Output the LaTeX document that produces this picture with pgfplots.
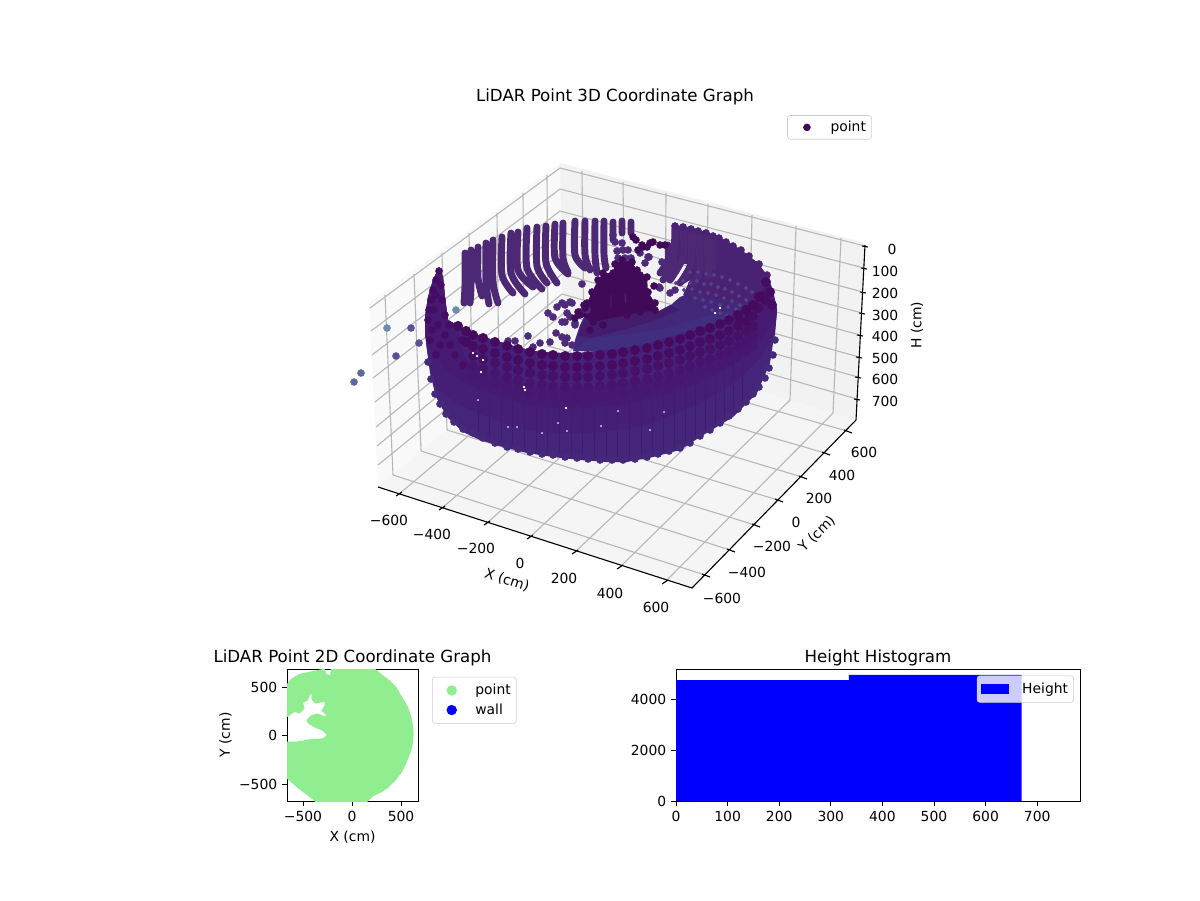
\documentclass[border=0pt]{standalone}
\usepackage{fontspec}
\setmainfont{DejaVu Sans}
\usepackage{pgfplots}
\pgfplotsset{compat=1.18}
\definecolor{pL}{HTML}{F9F9F9}
\definecolor{pR}{HTML}{F2F2F2}
\definecolor{pF}{HTML}{F5F5F5}
\definecolor{gr}{HTML}{B8B8B8}
\definecolor{cA}{HTML}{46207A}
\definecolor{cC}{HTML}{461A72}
\definecolor{cD}{HTML}{461E75}
\definecolor{cE}{HTML}{452579}
\definecolor{cS}{HTML}{452A7C}
\definecolor{cR1}{HTML}{450A5E}
\definecolor{cR2}{HTML}{450C62}
\definecolor{cR3}{HTML}{461067}
\definecolor{cR4}{HTML}{46146C}
\definecolor{cR5}{HTML}{461770}
\definecolor{cBack}{HTML}{4C2875}
\definecolor{cDark}{HTML}{400A59}
\definecolor{cMid}{HTML}{431C6C}
\definecolor{cR}{HTML}{422E7E}
\definecolor{cRm}{HTML}{43287A}
\definecolor{cH}{HTML}{4A2274}
\definecolor{cHatch}{HTML}{574088}
\definecolor{cSep}{HTML}{3C1E6C}
\definecolor{sA}{HTML}{6A8DB0}
\definecolor{sB}{HTML}{5B5092}
\definecolor{sC}{HTML}{5A6A9C}
\definecolor{sD}{HTML}{4E2A7A}
\definecolor{lg}{HTML}{90EE90}
\pgfplotsset{
  mpl/.style={
    scale only axis, axis line style={black,line width=.65pt},
    tick align=outside, tick pos=left, major tick length=3.5pt,
    every tick/.append style={black,line width=.65pt},
    title style={font=\fontsize{12}{14}\selectfont,yshift=-7.5pt},
    legend cell align=left,
  },
  dots/.style={only marks,mark=*,mark size=2.5pt,mark options={draw=none}},
  bigdots/.style={only marks,mark=*,mark size=3.4pt,mark options={draw=none}},
  dotlegend/.style={legend image code/.code={\draw[##1] plot coordinates {(0pt,0pt)};\path[draw=none,fill=none] (-12pt,0pt)--(15pt,0pt);}},
}
\newcommand{\lbl}[3]{\node[font=\fontsize{10}{12}\selectfont,inner sep=0pt] at (axis cs:#1,#2) {#3};}
\begin{document}
\begin{tikzpicture}
\path[use as bounding box] (0,0) rectangle (864pt,648pt);
\begin{axis}[at={(0,0)},anchor=south west,scale only axis,width=864pt,height=648pt,
  xmin=0,xmax=1200,ymin=0,ymax=900,y dir=reverse,hide axis,clip=false,unbounded coords=jump,
  dotlegend,legend entries={point},
  legend style={at={(0.656,0.872)},anchor=north west,draw=black!20,rounded corners=2pt,inner xsep=2pt,inner ysep=2pt,font=\fontsize{10}{12}\selectfont}]
\addlegendimage{only marks,mark=*,mark size=2.5pt,color=cDark}
% panes
\addplot[fill=pL,draw=none] coordinates {(369,303)(560,163)(563,333)(378,487)(369,303)};
\addplot[fill=pR,draw=none] coordinates {(560,163)(865,243)(856,420)(563,333)(560,163)};
\addplot[fill=pF,draw=none] coordinates {(378,487)(563,333)(856,420)(692,588)(378,487)};
% grid
\addplot[gr,line width=.8pt] coordinates {
(399,494)(584,339)(nan,nan)(442,508)(625,351)(nan,nan)(487,523)(665,363)(nan,nan)(530,537)(705,375)(nan,nan)(575,552)(748,388)(nan,nan)(620,567)(790,400)(nan,nan)(665,582)(833,413)(nan,nan)
(393,475)(705,575)(nan,nan)(421,451)(730,550)(nan,nan)(447,430)(755,525)(nan,nan)(473,408)(778,500)(nan,nan)(499,386)(802,477)(nan,nan)(524,366)(825,453)(nan,nan)(548,346)(847,431)(nan,nan)
(584,339)(582,171)(nan,nan)(625,351)(623,182)(nan,nan)(665,363)(666,193)(nan,nan)(705,375)(708,204)(nan,nan)(748,388)(752,215)(nan,nan)(790,400)(796,226)(nan,nan)(833,413)(841,238)(nan,nan)
(393,475)(385,295)(nan,nan)(421,451)(414,274)(nan,nan)(447,430)(442,253)(nan,nan)(473,408)(469,233)(nan,nan)(499,386)(497,213)(nan,nan)(524,366)(523,193)(nan,nan)(548,346)(547,175)(nan,nan)
(370,308)(560,168)(865,246)(nan,nan)(371,331)(560,189)(864,268)(nan,nan)(372,355)(560,211)(863,292)(nan,nan)(373,378)(561,232)(862,313)(nan,nan)
(375,402)(561,253)(860,335)(nan,nan)(376,427)(562,274)(859,357)(nan,nan)(377,446)(562,294)(858,377)(nan,nan)(378,465)(563,314)(857,399)};
% axis lines and ticks
\addplot[black,line width=.8pt] coordinates {(378,487)(692,588)(856,420)(nan,nan)(865,245)(856,420)(nan,nan)
(396,496)(402,492)(nan,nan)(439,510)(445,506)(nan,nan)(484,525)(490,521)(nan,nan)(527,539)(533,535)(nan,nan)(572,554)(578,550)(nan,nan)(617,569)(623,565)(nan,nan)(662,584)(668,580)(nan,nan)
(702,574)(710,577)(nan,nan)(727,549)(735,552)(nan,nan)(752,524)(760,527)(nan,nan)(775,499)(783,502)(nan,nan)(799,476)(807,479)(nan,nan)(822,452)(830,455)(nan,nan)(844,430)(852,433)(nan,nan)
(862,246)(868,247)(nan,nan)(861,268)(867,269)(nan,nan)(860,292)(866,293)(nan,nan)(859,313)(865,314)(nan,nan)(857,335)(863,336)(nan,nan)(856,357)(862,358)(nan,nan)(855,377)(861,378)(nan,nan)(854,399)(860,400)};
% far stray points
\addplot[dots,color=sA] coordinates {(387,328)(456,310)};
\addplot[dots,color=sB] coordinates {(411,328)(419,343)(396,356)};
\addplot[dots,color=sC] coordinates {(361,373)(354,382)};
% back wall columns
\addplot[cBack,line width=5pt,line cap=round,line join=round,smooth,tension=.5] coordinates {
(465,253)(465,285)(464,303)(nan,nan)(471,250)(471,285)(470,303)(nan,nan)(478,247)(478,278)(482,296)(nan,nan)
(486,243)(486,282)(489,304)(nan,nan)(493,240)(493,282)(498,303)(nan,nan)(502,237)(502,275)(513,293)(nan,nan)
(511,233)(511,273)(525,294)(nan,nan)(518,232)(518,270)(533,287)(nan,nan)(527,228)(527,268)(542,289)(nan,nan)
(537,227)(537,266)(547,283)(nan,nan)(546,226)(546,263)(557,283)(nan,nan)(555,224)(555,258)(568,274)(nan,nan)
(563,223)(563,258)(568,272)(nan,nan)(575,221)(575,255)(585,268)(nan,nan)(585,221)(585,255)(590,270)(nan,nan)
(595,221)(595,255)(597,273)(nan,nan)(604,221)(604,255)(606,268)(nan,nan)(613,222)(613,240)(nan,nan)
(622,221)(622,233)(nan,nan)(631,222)(631,233)(nan,nan)(668,245)(668,260)(660,273)};
% scattered interior points
\addplot[dots,color=sD] coordinates {(548,313)(557,307)(562,303)(570,302)(567,313)(553,317)(562,322)(575,323)(580,313)(587,310)(582,284)
(565,305)(572,303)(570,317)(565,322)(575,325)(567,338)(565,343)(556,333)(562,337)(550,342)(540,343)(528,336)(515,341)(508,341)(533,347)
(613,235)(615,242)(622,243)(617,251)(623,250)(628,250)(618,258)(625,258)(631,258)(645,263)(649,257)(662,262)(660,288)(670,293)(675,290)(640,253)(648,257)(659,287)(572,345)(580,312)};
\addplot[dots,color=cDark] coordinates {(636,240)(642,245)(638,250)(647,247)(653,242)(660,245)(665,245)(633,237)(643,247)(650,243)};
% inner right wall (upper)
\addplot[fill=cH,draw=none] coordinates {(675,225)(683,226)(691,228)(698,230)(706,232)(713,235)(719,237)(726,241)(733,245)(740,249)(748,255)(758,263)(767,275)(773,290)(777,310)(760,300)(735,318)(700,330)(695,300)(683,295)(690,280)(682,285)(691,265)(675,262)(675,225)};
\addplot[dots,color=cH] coordinates {(675,226)(683,227)(691,229)(698,231)(706,233)(713,236)(719,238)(726,242)(733,246)(741,250)(749,256)(759,264)(767,275)};
\addplot[cBack,line width=5pt,line cap=round,line join=round,smooth,tension=.5] coordinates {
(675,226)(673,263)(663,280)(nan,nan)(683,227)(683,257)(670,280)(nan,nan)(691,229)(691,263)(680,283)(nan,nan)(698,232)(700,270)(693,283)(nan,nan)(706,233)(709,275)(nan,nan)(713,237)(713,267)};
% inner surface (lower)
\addplot[fill=cRm,draw=none] coordinates {(573,351)(575,340)(580,325)(585,315)(620,305)(657,311)(665,311)(673,303)(680,297)(693,292)(705,297)(725,300)(745,303)(762,292)(765,300)(735,320)(700,333)(660,345)(620,352)(573,351)};
\addplot[fill=cR,draw=none] coordinates {(573,351)(590,338)(620,335)(660,330)(700,318)(730,310)(735,320)(700,333)(660,345)(620,352)(573,351)};
\addplot[fill=cMid,draw=none] coordinates {(578,335)(585,318)(620,310)(657,312)(670,305)(680,310)(650,322)(615,332)(590,338)(578,335)};
% hatch on the inner wall
\addplot[only marks,mark=*,mark size=1.2pt,mark options={draw=none},color=cHatch] coordinates {
(676,283)(683,281)(690,283)(697,281)(704,284)(711,284)(718,287)(725,289)(732,292)(739,296)(746,300)
(684,290)(692,289)(700,292)(708,293)(716,295)(724,298)(732,301)(740,305)
(695,298)(703,300)(711,302)(720,305)(728,307)(736,309)(705,307)(712,310)(720,313)(727,316)
(690,272)(698,272)(706,274)(714,275)(722,277)(730,280)(738,284)(746,288)(752,292)};
% dark central mass
\addplot[fill=cDark,draw=none] coordinates {(587,303)(592,292)(598,280)(603,273)(613,273)(615,264)(622,260)(632,262)(637,270)(647,277)(648,292)(655,303)(657,311)(640,312)(627,315)(593,322)(580,315)(585,308)(587,303)};
\addplot[dots,color=cDark] coordinates {(587,303)(592,292)(598,280)(603,273)(613,273)(615,264)(622,260)(632,262)(637,270)(647,277)(648,292)(655,303)(655,310)(640,312)(627,315)(593,322)(580,315)(585,308)(603,325)(590,330)(593,293)(600,285)(608,278)(584,305)(578,312)(575,318)(640,275)(654,286)};
\addplot[color=sD,line width=.7pt] coordinates {(611,295)(611,307)(nan,nan)(625,293)(626,303)};
% front wall bands
\addplot[fill=cE,draw=none] coordinates {(425,317)(428,297)(433,280)(439,267)(443,277)(445,297)(448,320)(457,325)(467,332)(480,336)(500,342)(520,348)(540,352)(560,353)(580,353)(600,351)(620,349)(640,346)(667,338)(700,329)(733,317)(755,303)(765,285)(772,290)(777,310)(775,330)(770,363)(757,393)(733,417)(700,437)(680,450)(653,457)(627,462)(607,462)(580,460)(553,457)(527,453)(503,447)(480,440)(463,432)(447,417)(436,397)(430,373)(427,350)(425,333)(425,317)};
\addplot[fill=cD,draw=none] coordinates {(425,317)(428,297)(433,280)(439,267)(443,277)(445,297)(448,320)(457,325)(467,332)(480,336)(500,342)(520,348)(540,352)(560,353)(580,353)(600,351)(620,349)(640,346)(667,338)(700,329)(733,317)(755,303)(765,285)(772,290)(777,310)(775,335)(760,358)(740,378)(720,392)(700,403)(680,412)(660,420)(640,426)(620,430)(600,432)(580,433)(560,433)(540,432)(520,428)(500,422)(480,414)(460,405)(445,395)(436,388)(430,368)(427,350)(425,333)(425,317)};
\addplot[fill=cC,draw=none] coordinates {(425,317)(428,297)(433,280)(439,267)(443,277)(445,297)(448,320)(457,325)(467,332)(480,336)(500,342)(520,348)(540,352)(560,353)(580,353)(600,351)(620,349)(640,346)(667,338)(700,329)(733,317)(755,303)(765,285)(772,290)(777,310)(776,320)(760,340)(740,360)(720,372)(700,382)(680,390)(660,396)(640,401)(620,405)(600,407)(580,408)(560,408)(540,407)(520,403)(500,397)(480,390)(460,380)(445,370)(435,355)(427,345)(425,333)(425,317)};
\addplot[fill=cA,draw=none] coordinates {(457,325)(467,332)(480,336)(500,342)(520,348)(540,352)(560,353)(580,353)(600,351)(620,349)(640,346)(667,338)(700,329)(733,317)(755,303)(762,310)(740,348)(720,357)(700,364)(680,371)(660,377)(640,381)(620,384)(600,386)(580,388)(560,388)(540,387)(520,383)(500,377)(480,369)(465,358)(457,325)};
% left limb and right rim
\addplot[dots,color=cR2] coordinates {(439,271)(436,280)(433,290)(431,300)(429,310)(428,320)(441,285)(442,300)(445,315)(436,295)(434,310)(438,325)(445,335)(432,330)(450,345)(440,345)(455,355)(463,365)(462,340)(449,325)(430,340)(436,355)};
\addplot[bigdots,color=cR2] coordinates {(766,282)(770,292)(772,305)(765,300)(758,308)(762,296)(750,316)(740,322)};
% bottom scallops
\addplot[dots,color=cS] coordinates {(428,362)(431,379)(435,394)(440,404)(446,414)(454,422)(463,429)(473,433)(483,438)(495,443)(507,447)(518,449)(530,452)(542,454)(553,455)(565,457)(577,458)(588,459)(600,460)(612,460)(623,460)(635,459)(647,457)(658,454)(669,451)(680,448)(690,443)(700,436)(710,430)(720,423)(729,416)(738,409)(746,402)(753,394)(759,387)(765,378)(769,368)(773,355)(775,340)};
% column separators
\addplot[color=cSep,line width=.4pt] coordinates {
(478,381)(478,432)(nan,nan)(489,385)(489,437)(nan,nan)(501,389)(501,441)(nan,nan)(512,393)(512,444)(nan,nan)(524,396)(524,447)(nan,nan)(536,398)(536,449)(nan,nan)(547,400)(547,451)(nan,nan)(559,401)(559,453)(nan,nan)(571,401)(571,454)(nan,nan)(582,401)(582,455)(nan,nan)(594,401)(594,456)(nan,nan)(606,400)(606,457)(nan,nan)(617,399)(617,457)(nan,nan)(629,397)(629,456)(nan,nan)(641,395)(641,455)(nan,nan)(652,393)(652,452)(nan,nan)(663,390)(663,450)(nan,nan)(674,387)(674,447)(nan,nan)(685,383)(685,442)(nan,nan)(695,379)(695,437)(nan,nan)(705,375)(705,431)(nan,nan)(715,370)(715,424)(nan,nan)(724,365)(724,417)(nan,nan)(733,358)(733,410)(nan,nan)(742,352)(742,403)};
% rows of points in the top of the wall
\addplot[bigdots,color=cR5] coordinates {(473,376)(483,379)(495,383)(507,387)(518,390)(530,393)(542,395)(553,396)(565,397)(577,397)(588,397)(600,396)(612,395)(623,393)(635,391)(647,389)(658,386)(669,383)(680,380)(690,376)(700,372)(710,369)(720,365)(729,361)(738,356)(746,351)(753,346)};
\addplot[bigdots,color=cR4] coordinates {(473,366)(483,369)(495,373)(507,377)(518,380)(530,383)(542,385)(553,386)(565,387)(577,387)(588,387)(600,386)(612,385)(623,383)(635,381)(647,379)(658,376)(669,373)(680,370)(690,366)(700,362)(710,359)(720,355)(729,351)(738,346)(746,341)(753,336)};
\addplot[bigdots,color=cR3] coordinates {(473,356)(483,359)(495,363)(507,367)(518,370)(530,373)(542,375)(553,376)(565,377)(577,377)(588,377)(600,376)(612,375)(623,373)(635,371)(647,369)(658,366)(669,363)(680,360)(690,356)(700,352)(710,349)(720,345)(729,341)(738,336)(746,331)(753,326)};
\addplot[bigdots,color=cR2] coordinates {(466,342)(473,346)(483,349)(495,353)(507,357)(518,360)(530,363)(542,365)(553,366)(565,367)(577,367)(588,367)(600,366)(612,365)(623,363)(635,361)(647,359)(658,356)(669,353)(680,350)(690,346)(700,342)(710,339)(720,335)(729,331)(738,326)(746,321)(753,316)};
\addplot[bigdots,color=cR1] coordinates {(458,326)(466,331)(473,335)(483,338)(495,342)(507,346)(518,349)(530,352)(542,354)(553,355)(565,356)(577,356)(588,356)(600,355)(612,354)(623,352)(635,350)(647,348)(658,345)(669,342)(680,339)(690,335)(700,331)(710,328)(720,324)(729,320)(738,315)(746,310)(753,305)(759,297)};
% gaps between points
\addplot[only marks,mark=*,mark size=.6pt,mark options={draw=none},color=white] coordinates {(473,353)(477,356)(483,360)(481,372)(524,387)(525,390)(566,408)(715,313)(720,308)};
\addplot[only marks,mark=*,mark size=.45pt,mark options={draw=none},color=white!75!blue] coordinates {(478,400)(508,427)(517,427)(542,433)(558,423)(567,431)(601,426)(618,411)(664,412)(650,430)};
% texts of the 3D panel
\node[font=\fontsize{12}{14}\selectfont,inner sep=0pt] at (axis cs:615,97) {LiDAR Point 3D Coordinate Graph};
\lbl{389}{520}{−600}\lbl{432}{534}{−400}\lbl{476}{548}{−200}\lbl{520}{563}{0}\lbl{564}{578}{200}\lbl{610}{593}{400}\lbl{656}{607}{600}
\lbl{722}{598}{−600}\lbl{747}{572}{−400}\lbl{772}{546}{−200}\lbl{796}{522}{0}\lbl{819}{498}{200}\lbl{842}{475}{400}\lbl{864}{452}{600}
\lbl{892}{249}{0}\lbl{885}{271}{100}\lbl{885}{293}{200}\lbl{885}{315}{300}\lbl{885}{336}{400}\lbl{885}{358}{500}\lbl{885}{379}{600}\lbl{885}{401}{700}
\node[font=\fontsize{10}{12}\selectfont,inner sep=0pt,rotate=-18] at (axis cs:507,580) {X (cm)};
\node[font=\fontsize{10}{12}\selectfont,inner sep=0pt,rotate=45] at (axis cs:817,534) {Y (cm)};
\node[font=\fontsize{10}{12}\selectfont,inner sep=0pt,rotate=90] at (axis cs:917,325) {H (cm)};
\end{axis}
% 2D panel
\begin{axis}[mpl,at={(206.64pt,71.28pt)},anchor=south west,width=94.32pt,height=95.04pt,
  xmin=-663,xmax=673,ymin=-671,ymax=685,
  title={LiDAR Point 2D Coordinate Graph},xlabel={X (cm)},ylabel={Y (cm)},
  ylabel style={yshift=-1.5pt},
  xtick={-500,0,500},xticklabels={−500,0,500},ytick={-500,0,500},yticklabels={−500,0,500},
  dotlegend,legend entries={point,wall},
  legend style={at={(1.107,0.94)},anchor=north west,draw=black!20,rounded corners=2pt,inner xsep=2pt,inner ysep=3pt,row sep=1pt,font=\fontsize{10}{12}\selectfont}]
\addlegendimage{only marks,mark=*,mark size=3.5pt,color=lg}
\addlegendimage{only marks,mark=*,mark size=3.5pt,color=blue}
\addplot[fill=lg,draw=none] coordinates {(-690,500)(-619,585)(-534,636)(-398,663)(-279,690)(-262,636)(-221,619)(-218,690)(231,690)(316,619)(384,568)(452,500)(520,381)(571,296)(605,194)(622,109)(629,24)(622,-78)(595,-180)(554,-282)(503,-384)(435,-469)(367,-537)(299,-582)(214,-622)(146,-690)(-364,-690)(-398,-656)(-534,-554)(-690,-418)(-690,-61)(-568,-61)(-432,-37)(-296,-27)(-255,7)(-296,48)(-381,85)(-449,126)(-466,160)(-415,211)(-347,228)(-269,194)(-269,221)(-313,255)(-279,313)(-279,347)(-381,330)(-415,381)(-405,432)(-432,415)(-449,364)(-500,337)(-483,279)(-534,228)(-585,245)(-653,194)(-690,187)(-690,500)};
\end{axis}
% Histogram
\begin{axis}[mpl,at={(486.72pt,71.28pt)},anchor=south west,width=290.88pt,height=95.04pt,
  xmin=0,xmax=783,ymin=0,ymax=5176,title={Height Histogram},
  xtick={0,100,...,700},xticklabels={0,100,200,300,400,500,600,700},ytick={0,2000,4000},yticklabels={0,2000,4000},
  legend image code/.code={\fill[blue,draw=none,fill opacity=1,sharp corners] (0pt,-3.6pt) rectangle (20.2pt,3.6pt);\path[draw=none,fill=none] (-1pt,0pt)--(27.5pt,0pt);},
  legend style={at={(0.985,0.95)},anchor=north east,draw=black!20,fill opacity=.8,text opacity=1,rounded corners=2pt,inner xsep=2pt,inner ysep=3pt,font=\fontsize{10}{12}\selectfont}]
\addplot[ybar interval,fill=blue,draw=none] coordinates {(0,4740)(335,4945)(670,0)};
\addlegendentry{Height}
\end{axis}
\end{tikzpicture}
\end{document}
